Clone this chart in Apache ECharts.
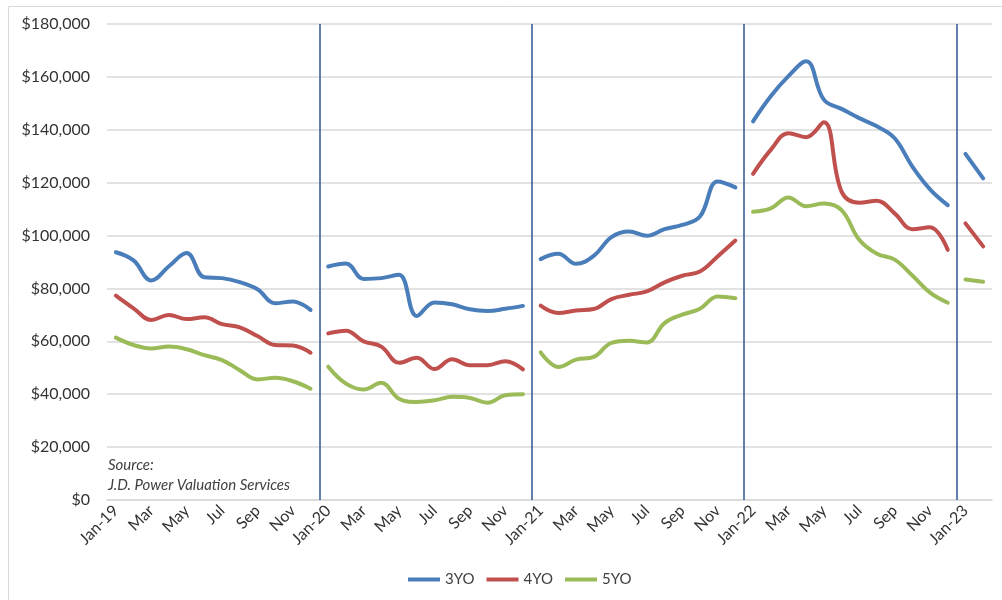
<!DOCTYPE html>
<html>
<head>
<meta charset="utf-8">
<script src="https://cdn.jsdelivr.net/npm/echarts@6/dist/echarts.min.js"></script>
<style>
  html, body { margin: 0; padding: 0; background: #fff; }
  #chart { width: 1002px; height: 600px; }
</style>
</head>
<body>
<div id="chart"></div>
<script>
var categories = [
  "Jan-19","Feb-19","Mar-19","Apr-19","May-19","Jun-19","Jul-19","Aug-19","Sep-19","Oct-19","Nov-19","Dec-19",
  "Jan-20","Feb-20","Mar-20","Apr-20","May-20","Jun-20","Jul-20","Aug-20","Sep-20","Oct-20","Nov-20","Dec-20",
  "Jan-21","Feb-21","Mar-21","Apr-21","May-21","Jun-21","Jul-21","Aug-21","Sep-21","Oct-21","Nov-21","Dec-21",
  "Jan-22","Feb-22","Mar-22","Apr-22","May-22","Jun-22","Jul-22","Aug-22","Sep-22","Oct-22","Nov-22","Dec-22",
  "Jan-23","Feb-23"
];

var yo3 = [
  93700, 90600, 83000, 88400, 93400, 84200, 83900, 82400, 79700, 74400, 75100, 71900,
  88300, 89400, 83600, 83900, 85200, 69600, 74700, 74000, 72100, 71500, 72300, 73400,
  91100, 93100, 89300, 92300, 99400, 101500, 99900, 102400, 104000, 107200, 120400, 118200,
  143200, 152700, 160300, 165900, 151400, 147900, 144400, 141300, 136800, 126100, 117500, 111500,
  130900, 121600
];
var yo4 = [
  77300, 72500, 68100, 70000, 68400, 69100, 66500, 65300, 62000, 58600, 58400, 55700,
  63000, 64000, 60000, 58000, 51900, 53800, 49500, 53200, 51000, 51000, 52500, 49400,
  73500, 70700, 71700, 72200, 76000, 77600, 78900, 82300, 84800, 86400, 92100, 98100,
  123300, 132400, 138700, 137200, 142800, 116600, 112400, 113200, 108400, 102400, 103100, 94600,
  104600, 95900
];
var yo5 = [
  61400, 58600, 57300, 58000, 57000, 54800, 52900, 49100, 45600, 46200, 44900, 42100,
  50400, 44000, 41800, 44300, 38300, 37100, 37700, 39000, 38600, 36800, 39600, 40000,
  55800, 50300, 53100, 54100, 59400, 60200, 59600, 66900, 70100, 72300, 77000, 76300,
  109000, 110300, 114400, 111100, 112100, 109600, 98400, 93100, 90900, 84900, 78400, 74600,
  83400, 82500
];

var seriesNames = ["3YO", "4YO", "5YO"];
var seriesColors = ["#4A7EBB", "#C0504D", "#9BBB59"];
// index where each year starts; lines break between Dec and Jan
var yearStarts = [0, 12, 24, 36, 48];

var font = "Lato, 'Open Sans', sans-serif";

function money(v) {
  return "$" + String(v).replace(/\B(?=(\d{3})+(?!\d))/g, ",");
}

function segment(values, start, end) {
  return values.map(function (v, i) {
    return i >= start && i < end ? v : null;
  });
}

var series = [];
[yo3, yo4, yo5].forEach(function (values, k) {
  yearStarts.forEach(function (start, j) {
    var end = j + 1 < yearStarts.length ? yearStarts[j + 1] : values.length;
    series.push({
      name: seriesNames[k],
      type: "line",
      data: segment(values, start, end),
      smooth: 0.4,
      showSymbol: false,
      connectNulls: false,
      lineStyle: { width: 4, color: seriesColors[k], cap: "round" },
      itemStyle: { color: seriesColors[k] },
      z: 3
    });
  });
});

// year divider lines, on a hidden linear axis over the same span
series.push({
  name: "divider",
  type: "line",
  xAxisIndex: 1,
  data: [],
  silent: true,
  markLine: {
    silent: true,
    symbol: "none",
    label: { show: false },
    lineStyle: { color: "#2F5597", width: 1.5, type: "solid" },
    data: yearStarts.slice(1).map(function (s) { return { xAxis: s }; })
  }
});

var myChart = echarts.init(document.getElementById("chart"));
myChart.setOption({
  animation: false,
  textStyle: { fontFamily: font },
  grid: { left: 107, right: 10, top: 24, bottom: 100 },
  legend: {
    data: seriesNames,
    bottom: 8,
    left: 403,
    icon: "rect",
    itemWidth: 32,
    itemHeight: 4,
    itemGap: 12,
    textStyle: { fontSize: 15, color: "#404040", fontFamily: font }
  },
  xAxis: [
    {
      type: "category",
      data: categories,
      boundaryGap: true,
      axisLine: { show: true, lineStyle: { color: "#d9d9d9", width: 1.5 } },
      axisTick: { show: false },
      axisLabel: {
        interval: 1,
        rotate: 45,
        margin: 8,
        fontSize: 16,
        color: "#333333",
        fontFamily: font,
        formatter: function (v) {
          return v.indexOf("Jan") === 0 ? v : v.split("-")[0];
        }
      },
      splitLine: { show: false }
    },
    {
      type: "value",
      min: 0,
      max: categories.length,
      show: false,
      splitLine: { show: false }
    }
  ],
  yAxis: {
    type: "value",
    min: 0,
    max: 180000,
    interval: 20000,
    axisLine: { show: false },
    axisTick: { show: false },
    axisLabel: {
      margin: 17,
      fontSize: 16,
      color: "#333333",
      fontFamily: font,
      formatter: money
    },
    splitLine: { lineStyle: { color: "#d9d9d9", width: 1.5 } }
  },
  graphic: [
    {
      type: "rect",
      shape: { x: 8.5, y: 6.5, width: 1000, height: 600 },
      style: { fill: "none", stroke: "#d9d9d9", lineWidth: 1 },
      silent: true
    },
    {
      type: "text",
      left: 108,
      top: 455,
      style: {
        text: "Source:\nJ.D. Power Valuation Services",
        font: "italic 15px " + font,
        fill: "#404040",
        lineHeight: 20
      }
    }
  ],
  series: series
});
</script>
</body>
</html>
